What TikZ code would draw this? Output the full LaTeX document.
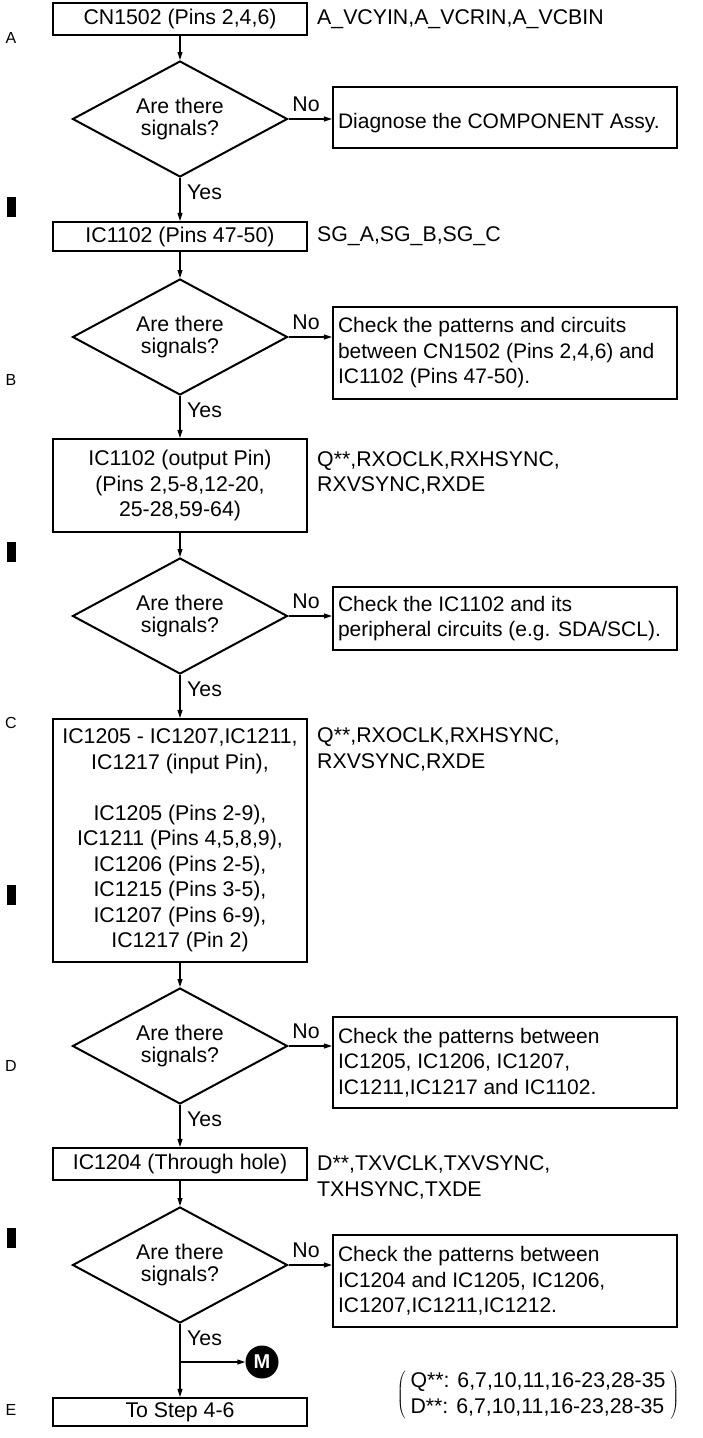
\documentclass[tikz,border=0pt]{standalone}
\usepackage{fontspec}
\setmainfont{Liberation Sans}
\usetikzlibrary{shapes.geometric,arrows.meta}
\newcommand\fs{\fontsize{21.3pt}{25.5pt}\selectfont}
\newcommand\rfs{\fontsize{21pt}{25.5pt}\selectfont}
\newcommand\dfs{\fontsize{21.3pt}{21.7pt}\selectfont}
\begin{document}
\begin{tikzpicture}[x=1pt,y=-1pt,
  every node/.style={font=\fs, text=black},
  box/.style={draw, line width=2.2pt, minimum width=254pt, inner sep=0pt, align=center},
  dec/.style={draw, diamond, line width=2pt, minimum width=215pt, minimum height=116pt, aspect=1.85, inner sep=0pt, align=center, font=\dfs},
  rbox/.style={draw, line width=2.2pt, text width=334pt, inner xsep=5pt, inner ysep=0pt, align=flush left, font=\rfs},
  arr/.style={-{Triangle[length=8pt,width=5pt]}, line width=1.1pt},
  sig/.style={anchor=west, align=left, inner sep=0pt},
  lab/.style={font=\fontsize{16pt}{18pt}\selectfont, inner sep=0pt},
  yeslab/.style={anchor=west, inner sep=0pt},
  nolab/.style={inner sep=0pt},
  gridbar/.style={fill=black, minimum width=9pt, minimum height=20pt, inner sep=0pt},
]
\useasboundingbox (0,0) rectangle (702,1438);

% grid letters and bars
\node[lab] (gA) at (11,38) {A};
\node[lab] (gB) at (11,380) {B};
\node[lab] (gC) at (11,723) {C};
\node[lab] (gD) at (11,1066) {D};
\node[lab] (gE) at (11,1410) {E};
\node[gridbar] (k1) at (11,207) {};
\node[gridbar] (k2) at (11,552) {};
\node[gridbar] (k3) at (11,895) {};
\node[gridbar] (k4) at (11,1238) {};

% step 1
\node[box, minimum height=32pt] (b1) at (180,19) {CN1502 (Pins 2,4,6)};
\node[sig] (s1) at (317,19) {A\_VCYIN,A\_VCRIN,A\_VCBIN};
\node[dec] (d1) at (180,119) {Are there\\signals?};
\node[rbox, minimum height=61pt] (r1) at (505,117.5) {\mbox{}\\\mbox{Diagnose the COMPONENT Assy.}};
\node[nolab] (n1) at (306,104) {No};
\node[yeslab] (y1) at (187,192) {Yes};

% step 2
\node[box, minimum height=29pt] (b2) at (180,236.5) {IC1102 (Pins 47-50)};
\node[sig] (s2) at (317,236.5) {SG\_A,SG\_B,SG\_C};
\node[dec] (d2) at (180,337) {Are there\\signals?};
\node[rbox, minimum height=92pt] (r2) at (505,353) {\mbox{Check the patterns and circuits}\\\mbox{between CN1502 (Pins 2,4,6) and}\\\mbox{IC1102 (Pins 47-50).}};
\node[nolab] (n2) at (306,322) {No};
\node[yeslab] (y2) at (187,410) {Yes};

% step 3
\node[box, minimum height=93pt] (b3) at (180,485.5) {IC1102 (output Pin)\\(Pins 2,5-8,12-20,\\25-28,59-64)};
\node[sig] (s3) at (317,473) {Q**,RXOCLK,RXHSYNC,\\RXVSYNC,RXDE};
\node[dec] (d3) at (180,616) {Are there\\signals?};
\node[rbox, minimum height=63pt] (r3) at (505,618.5) {\mbox{Check the IC1102 and its}\\\mbox{peripheral circuits (e.g. SDA/SCL).}};
\node[nolab] (n3) at (306,601) {No};
\node[yeslab] (y3) at (187,689) {Yes};

% step 4
\node[box, minimum height=243pt] (b4) at (180,840.5) {IC1205 - IC1207,IC1211,\\IC1217 (input Pin),\\[25.5pt]IC1205 (Pins 2-9),\\IC1211 (Pins 4,5,8,9),\\IC1206 (Pins 2-5),\\IC1215 (Pins 3-5),\\IC1207 (Pins 6-9),\\IC1217 (Pin 2)};
\node[sig] (s4) at (317,749.5) {Q**,RXOCLK,RXHSYNC,\\RXVSYNC,RXDE};
\node[dec] (d4) at (180,1046) {Are there\\signals?};
\node[rbox, minimum height=91pt] (r4) at (505,1062.5) {\mbox{Check the patterns between}\\\mbox{IC1205, IC1206, IC1207,}\\\mbox{IC1211,IC1217 and IC1102.}};
\node[nolab] (n4) at (306,1031) {No};
\node[yeslab] (y4) at (187,1119) {Yes};

% step 5
\node[box, minimum height=32pt] (b5) at (180,1164) {IC1204 (Through hole)};
\node[sig] (s5) at (317,1177.5) {D**,TXVCLK,TXVSYNC,\\TXHSYNC,TXDE};
\node[dec] (d5) at (180,1265) {Are there\\signals?};
\node[rbox, minimum height=92pt] (r5) at (505,1281) {\mbox{Check the patterns between}\\\mbox{IC1204 and IC1205, IC1206,}\\\mbox{IC1207,IC1211,IC1212.}};
\node[nolab] (n5) at (306,1250) {No};
\node[yeslab] (y5) at (187,1338) {Yes};

% end
\node[box, minimum height=28pt] (b6) at (180,1412) {To Step 4-6};
\node[circle, fill=black, minimum size=33pt, inner sep=0pt, text=white, font=\fontsize{20pt}{20pt}\selectfont\bfseries] (m) at (262,1362) {M};
\coordinate (br) at (180,1362);
\node (note) at (538,1395.5) {$\left(\hspace{5pt}\begin{tabular}{@{}l@{}}Q**: 6,7,10,11,16-23,28-35\\D**: 6,7,10,11,16-23,28-35\end{tabular}\hspace{5pt}\right)$};

% connectors
\draw[arr] (b1) -- (d1);
\draw[arr] (d1) -- (b2);
\draw[arr] (d1.east) -- (d1.east -| r1.west);
\draw[arr] (b2) -- (d2);
\draw[arr] (d2) -- (b3);
\draw[arr] (d2.east) -- (d2.east -| r2.west);
\draw[arr] (b3) -- (d3);
\draw[arr] (d3) -- (b4);
\draw[arr] (d3.east) -- (d3.east -| r3.west);
\draw[arr] (b4) -- (d4);
\draw[arr] (d4) -- (b5);
\draw[arr] (d4.east) -- (d4.east -| r4.west);
\draw[arr] (b5) -- (d5);
\draw[arr] (d5) -- (b6);
\draw[arr] (d5.east) -- (d5.east -| r5.west);
\draw[arr] (br) -- (m);
\end{tikzpicture}
\end{document}
